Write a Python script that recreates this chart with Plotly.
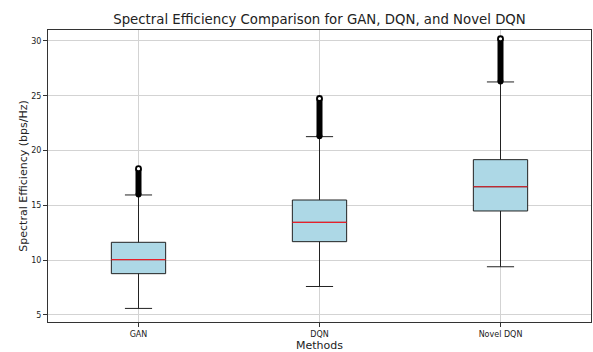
import plotly.graph_objects as go

methods = ["GAN", "DQN", "Novel DQN"]
positions = [1, 2, 3]
lower_whisker = [5.6, 7.6, 9.4]
q1 = [8.77, 11.69, 14.49]
median = [10.05, 13.45, 16.7]
q3 = [11.63, 15.49, 19.17]
upper_whisker = [15.95, 21.27, 26.26]
outlier_low = [16.0, 21.3, 26.3]
outlier_high = [18.35, 24.75, 30.2]
y_ticks = [5, 10, 15, 20, 25, 30]

box_width = 0.3
font = "DejaVu Sans"

fig = go.Figure()

fig.add_trace(go.Box(
    x=positions, q1=q1, median=median, q3=q3,
    lowerfence=lower_whisker, upperfence=upper_whisker,
    width=box_width, whiskerwidth=0.5,
    fillcolor="#add8e6", line=dict(color="#222222", width=1),
    boxpoints=False, showlegend=False, hoverinfo="skip",
))

# red median lines
for p, m in zip(positions, median):
    fig.add_trace(go.Scatter(
        x=[p - box_width / 2, p + box_width / 2], y=[m, m], mode="lines",
        line=dict(color="#e8202a", width=1.2), showlegend=False, hoverinfo="skip",
    ))

# outlier bands (dense fliers)
for p, lo, hi in zip(positions, outlier_low, outlier_high):
    fig.add_trace(go.Scatter(
        x=[p, p], y=[lo, hi], mode="lines",
        line=dict(color="black", width=6), showlegend=False, hoverinfo="skip",
    ))
    fig.add_trace(go.Scatter(
        x=[p], y=[lo], mode="markers",
        marker=dict(symbol="circle", size=6, color="black", line=dict(width=0)),
        showlegend=False, hoverinfo="skip",
    ))
    fig.add_trace(go.Scatter(
        x=[p], y=[hi], mode="markers",
        marker=dict(symbol="circle", size=5, color="white", line=dict(color="black", width=1.8)),
        showlegend=False, hoverinfo="skip",
    ))

axis_common = dict(
    showline=True, linecolor="#333333", linewidth=1, mirror=True,
    showgrid=True, gridcolor="#d3d3d3", gridwidth=1,
    ticks="outside", ticklen=4, tickcolor="#333333",
    tickfont=dict(family=font, size=8, color="#222222"),
    zeroline=False,
)

fig.update_layout(
    width=593, height=352,
    margin=dict(l=48, r=2, t=30, b=30),
    paper_bgcolor="white", plot_bgcolor="white",
    title=dict(
        text="Spectral Efficiency Comparison for GAN, DQN, and Novel DQN",
        font=dict(family=font, size=13.3, color="#222222"),
        x=0.5, xanchor="center", xref="paper", y=1 - 19 / 352, yanchor="middle", yref="container",
    ),
    xaxis=dict(
        range=[0.5, 3.5], tickvals=positions, ticktext=methods,
        title=dict(text="Methods", font=dict(family=font, size=11, color="#222222"), standoff=1),
        **axis_common,
    ),
    yaxis=dict(
        range=[4.36, 31.0], tickvals=y_ticks,
        title=dict(text="Spectral Efficiency (bps/Hz)", font=dict(family=font, size=11, color="#222222"), standoff=1),
        **axis_common,
    ),
)

fig.write_html("out.html", config={"displayModeBar": False},
               post_script="document.body.style.margin='0';")
